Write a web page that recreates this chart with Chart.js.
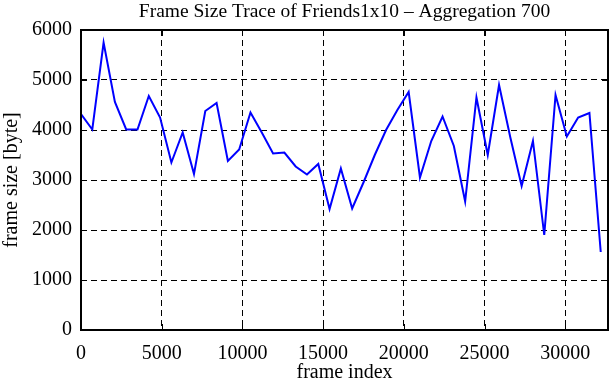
<!DOCTYPE html>
<html>
<head>
<meta charset="utf-8">
<script src="https://cdn.jsdelivr.net/npm/chart.js@4"></script>
<style>
	html, body { margin: 0; padding: 0; background: #fff; }
	canvas { display: block; }
</style>
</head>
<body>
<canvas id="trace" width="611" height="380"></canvas>
<script>
// frame index of each aggregated sample (every 700 frames)
const frameIndex = [
	0, 700, 1400, 2100, 2800, 3500, 4200, 4900, 5600, 6300,
	7000, 7700, 8400, 9100, 9800, 10500, 11200, 11900, 12600, 13300,
	14000, 14700, 15400, 16100, 16800, 17500, 18200, 18900, 19600, 20300,
	21000, 21700, 22400, 23100, 23800, 24500, 25200, 25900, 26600, 27300,
	28000, 28700, 29400, 30100, 30800, 31500, 32200
];
// frame size in byte
const frameSize = [
	4320, 4010, 5750, 4560, 4010, 4010, 4680, 4250, 3350, 3950,
	3120, 4380, 4540, 3380, 3610, 4350, 3950, 3530, 3550, 3270,
	3110, 3320, 2420, 3230, 2430, 2950, 3500, 4000, 4400, 4760,
	3050, 3780, 4270, 3680, 2570, 4650, 3500, 4900, 3850, 2880,
	3780, 1900, 4700, 3870, 4250, 4340, 1560
];
const xTicks = [0, 5000, 10000, 15000, 20000, 25000, 30000];
const yTicks = [0, 1000, 2000, 3000, 4000, 5000, 6000];

const serif = "'Liberation Serif', 'DejaVu Serif', serif";
Chart.defaults.font.family = serif;
Chart.defaults.color = "#000";

// gnuplot style frame with inward ticks
const frameBox = {
	id: 'frameBox',
	afterDraw(chart) {
		const ctx = chart.ctx;
		const a = chart.chartArea;
		const x = chart.scales.x, y = chart.scales.y;
		const len = 6;
		ctx.save();
		ctx.strokeStyle = "#000";
		ctx.lineWidth = 1;
		ctx.beginPath();
		xTicks.forEach(v => {
			const px = Math.round(x.getPixelForValue(v)) + 0.5;
			ctx.moveTo(px, a.bottom); ctx.lineTo(px, a.bottom - len);
			ctx.moveTo(px, a.top); ctx.lineTo(px, a.top + len);
		});
		yTicks.forEach(v => {
			const py = Math.round(y.getPixelForValue(v)) + 0.5;
			ctx.moveTo(a.left, py); ctx.lineTo(a.left + len, py);
			ctx.moveTo(a.right, py); ctx.lineTo(a.right - len, py);
		});
		ctx.stroke();
		ctx.lineWidth = 2;
		ctx.strokeRect(a.left, a.top, a.right - a.left, a.bottom - a.top);
		ctx.restore();
	}
};

new Chart(document.getElementById('trace'), {
	type: 'line',
	data: {
		datasets: [{
			data: frameIndex.map((f, i) => ({ x: f, y: frameSize[i] })),
			borderColor: 'rgb(0, 0, 255)',
			borderWidth: 2,
			pointRadius: 0,
			tension: 0,
			fill: false
		}]
	},
	options: {
		responsive: false,
		animation: false,
		layout: { padding: { left: 0, right: 3, top: 0, bottom: 0 } },
		plugins: {
			legend: { display: false },
			tooltip: { enabled: false },
			title: {
				display: true,
				fullSize: false,
				text: 'Frame Size Trace of Friends1x10 \u2013 Aggregation 700',
				color: '#000',
				font: { family: serif, size: 19.5, weight: 'normal', lineHeight: 1.2 },
				padding: { top: 0, bottom: 6.6 }
			}
		},
		scales: {
			x: {
				type: 'linear',
				min: 0,
				max: 32650,
				afterFit: (s) => { s.height = 50; },
				afterBuildTicks: (s) => { s.ticks = xTicks.map(v => ({ value: v })); },
				ticks: { font: { size: 20 }, padding: 12, maxRotation: 0, autoSkip: false, callback: (v) => String(v) },
				grid: { color: '#000', lineWidth: 1, drawTicks: false },
				border: { display: false, dash: [6, 4] },
				title: { display: true, text: 'frame index', font: { size: 20, lineHeight: 0.75 }, padding: 0 }
			},
			y: {
				min: 0,
				max: 6000,
				afterFit: (s) => { s.width = 81; },
				afterBuildTicks: (s) => { s.ticks = yTicks.map(v => ({ value: v })); },
				ticks: { font: { size: 20 }, padding: 9, callback: (v) => String(v) },
				grid: { color: '#000', lineWidth: 1, drawTicks: false },
				border: { display: false, dash: [6, 4] },
				title: { display: true, text: 'frame size [byte]', font: { size: 20 }, padding: { top: 0, bottom: 0 } }
			}
		}
	},
	plugins: [frameBox]
});
</script>
</body>
</html>
